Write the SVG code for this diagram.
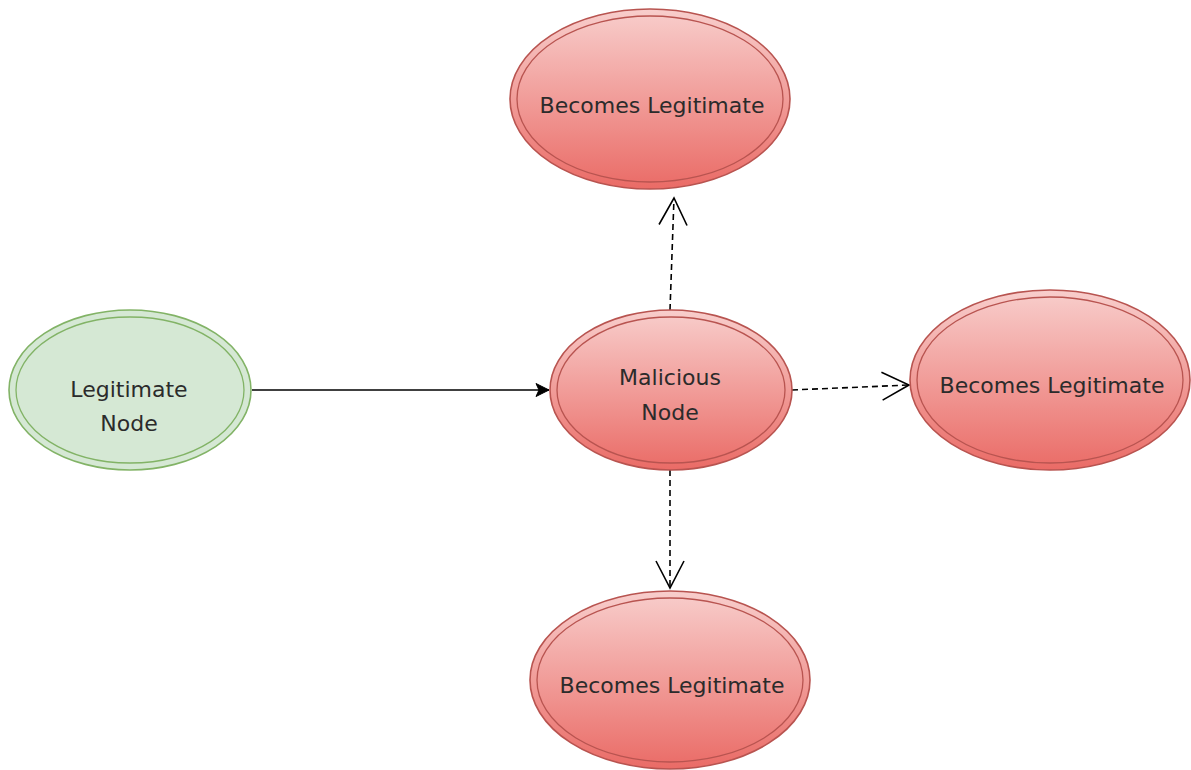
<svg xmlns="http://www.w3.org/2000/svg" width="1191" height="770" viewBox="0 0 1191 770">
  <style>
    .red-o { fill: url(#redGrad); stroke: #b85450; stroke-width: 1.6; }
    .red-i { fill: none; stroke: #b85450; stroke-width: 1.3; }
    .green-o { fill: #d5e8d4; stroke: #82b366; stroke-width: 1.6; }
    .green-i { fill: none; stroke: #82b366; stroke-width: 1.3; }
    .lbl { font-family: "DejaVu Sans", Verdana, sans-serif; font-size: 22px; fill: #2b2b2b; text-anchor: middle; }
    .edge { fill: none; stroke: #000000; stroke-width: 1.6; }
    .dash { stroke-dasharray: 6 4; }
  </style>
  <defs>
    <linearGradient id="redGrad" x1="0" y1="0" x2="0" y2="1">
      <stop offset="0" stop-color="#f8cecc"/>
      <stop offset="1" stop-color="#ea6b66"/>
    </linearGradient>
    <marker id="openArrow" markerUnits="userSpaceOnUse" markerWidth="40" markerHeight="40" refX="0" refY="0" viewBox="-30 -20 40 40" orient="auto" overflow="visible">
      <path d="M-27,-14 L0,0 L-27,14" fill="none" stroke="#000" stroke-width="1.6"/>
    </marker>
    <marker id="blockArrow" markerUnits="userSpaceOnUse" markerWidth="20" markerHeight="20" refX="0" refY="0" viewBox="-15 -10 20 20" orient="auto" overflow="visible">
      <path d="M-13,-6.5 L0,0 L-13,6.5 L-10,0 Z" fill="#000" stroke="#000" stroke-width="1"/>
    </marker>
  </defs>

  <g id="connectors">
    <line class="edge" x1="252" y1="390" x2="549" y2="390" marker-end="url(#blockArrow)"/>
    <line class="edge dash" x1="670" y1="310" x2="674" y2="198" marker-end="url(#openArrow)"/>
    <line class="edge dash" x1="792" y1="390" x2="909" y2="385" marker-end="url(#openArrow)"/>
    <line class="edge dash" x1="670" y1="470" x2="670" y2="588" marker-end="url(#openArrow)"/>
  </g>

  <g id="node-legitimate">
    <ellipse class="green-o" cx="130" cy="390" rx="121" ry="80"/>
    <ellipse class="green-i" cx="130" cy="390" rx="114" ry="73"/>
    <text class="lbl" x="129" y="397">Legitimate</text>
    <text class="lbl" x="129" y="431">Node</text>
  </g>

  <g id="node-malicious">
    <ellipse class="red-o" cx="671" cy="390" rx="121" ry="80"/>
    <ellipse class="red-i" cx="671" cy="390" rx="114" ry="73"/>
    <text class="lbl" x="670" y="385">Malicious</text>
    <text class="lbl" x="670" y="420">Node</text>
  </g>

  <g id="node-top">
    <ellipse class="red-o" cx="650" cy="99" rx="140" ry="90"/>
    <ellipse class="red-i" cx="650" cy="99" rx="133" ry="83"/>
    <text class="lbl" x="652" y="113">Becomes Legitimate</text>
  </g>

  <g id="node-right">
    <ellipse class="red-o" cx="1050" cy="380" rx="140" ry="90"/>
    <ellipse class="red-i" cx="1050" cy="380" rx="133" ry="83"/>
    <text class="lbl" x="1052" y="393">Becomes Legitimate</text>
  </g>

  <g id="node-bottom">
    <ellipse class="red-o" cx="670" cy="680" rx="140" ry="89"/>
    <ellipse class="red-i" cx="670" cy="680" rx="133" ry="82"/>
    <text class="lbl" x="672" y="693">Becomes Legitimate</text>
  </g>
</svg>
